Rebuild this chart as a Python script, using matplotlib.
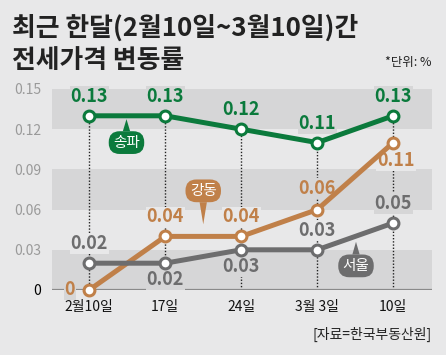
import matplotlib
matplotlib.use('Agg')
import matplotlib.pyplot as plt
import numpy as np

plt.rcParams['font.family'] = ['Noto Sans CJK KR', 'DejaVu Sans']

dates = ['2월10일', '17일', '24일', '3월 3일', '10일']
songpa = [0.13, 0.13, 0.12, 0.11, 0.13]
gangdong = [0, 0.04, 0.04, 0.06, 0.11]
seoul = [0.02, 0.02, 0.03, 0.03, 0.05]
yticks = [0, 0.03, 0.06, 0.09, 0.12, 0.15]
ytick_labels = ['0', '0.03', '0.06', '0.09', '0.12', '0.15']

green = '#0b7a3c'
orange = '#c08049'
gray = '#6d6d6e'
bg = '#e8e8e9'
band = '#d6d6d7'

fig = plt.figure(figsize=(4.46, 3.55), dpi=100, facecolor=bg)
ax = fig.add_axes([0.1166, 0.1831, 0.852, 0.5662])
ax.set_facecolor(bg)
x = np.arange(len(dates))

# 줄무늬 배경
dark_bands = [(0, 0.03), (0.06, 0.09), (0.12, 0.15)]
for lo, hi in dark_bands:
    ax.axhspan(lo, hi, color=band, lw=0, zorder=0)


def band_col(v):
    for lo, hi in dark_bands:
        if lo <= v <= hi:
            return band
    return bg


# 점선
tops = np.max([songpa, gangdong, seoul], axis=0)
for i in x:
    ax.plot([i, i], [0, tops[i]], color='#222222', lw=1, ls=(0, (1, 1.3)), zorder=1)

ax.axhline(0, color='#8a8a8a', lw=1.6, zorder=1.5)

series = [
    (songpa, green, [(0, 14)] * 5),
    (gangdong, orange, [(-14, 0), (0, 14), (0, 14), (0, 15), (2, -13)]),
    (seoul, gray, [(0, 14), (0, -12), (0, -12), (0, 14), (0, 14)]),
]
for vals, col, offs in series:
    ax.plot(x, vals, color=col, lw=3.6, marker='o', ms=7.8, mfc='white',
            mec=col, mew=2.2, zorder=3, clip_on=False)
    for i, v in enumerate(vals):
        dx, dy = offs[i]
        ly = v + dy / 14.4 * 0.015
        ax.annotate(f'{v:g}', (i, v), xytext=(dx, dy), textcoords='offset points',
                    ha='center', va='center', fontsize=13, fontweight='bold',
                    color=col, zorder=2.5,
                    bbox=dict(boxstyle='square,pad=0.05', fc=band_col(ly), ec='none'))

# 이름표
tags = [('송파', green, (0.49, 0.110), (0.49, 0.1275)),
        ('강동', orange, (1.5, 0.074), (1.5, 0.049)),
        ('서울', gray, (3.51, 0.018), (3.51, 0.036))]
for name, col, pos, tip in tags:
    ax.annotate(name, tip, xytext=pos, textcoords='data', ha='center', va='center',
                fontsize=10.5, color='white', zorder=4,
                bbox=dict(boxstyle='round,pad=0.3,rounding_size=0.75', fc=col, ec='none'),
                arrowprops=dict(arrowstyle='wedge,tail_width=0.5,shrink_factor=0.5',
                                fc=col, ec='none', shrinkA=0, shrinkB=0))

ax.set_xlim(-0.49, 4.51)
ax.set_ylim(0, 0.15)
ax.set_xticks(x)
ax.set_xticklabels(dates, fontsize=10, color='#111111')
ax.set_yticks(yticks)
ax.set_yticklabels(ytick_labels, fontsize=10)
for lab in ax.get_yticklabels()[1:]:
    lab.set_color('#9a9a9a')
ax.tick_params(length=0, pad=7)
ax.tick_params(axis='y', pad=8)
for s in ax.spines.values():
    s.set_visible(False)

fig.text(0.027, 0.92, '최근 한달(2월10일~3월10일)간', fontsize=18.6, fontweight='bold',
         color='#222222', va='center')
fig.text(0.027, 0.83, '전세가격 변동률', fontsize=18.6, fontweight='bold',
         color='#222222', va='center')
fig.text(0.968, 0.823, '*단위: %', fontsize=9, color='#222222', ha='right', va='center')
fig.text(0.968, 0.057, '[자료=한국부동산원]', fontsize=10, color='#222222', ha='right', va='center')

fig.savefig('out.png', dpi=100, facecolor=bg)
